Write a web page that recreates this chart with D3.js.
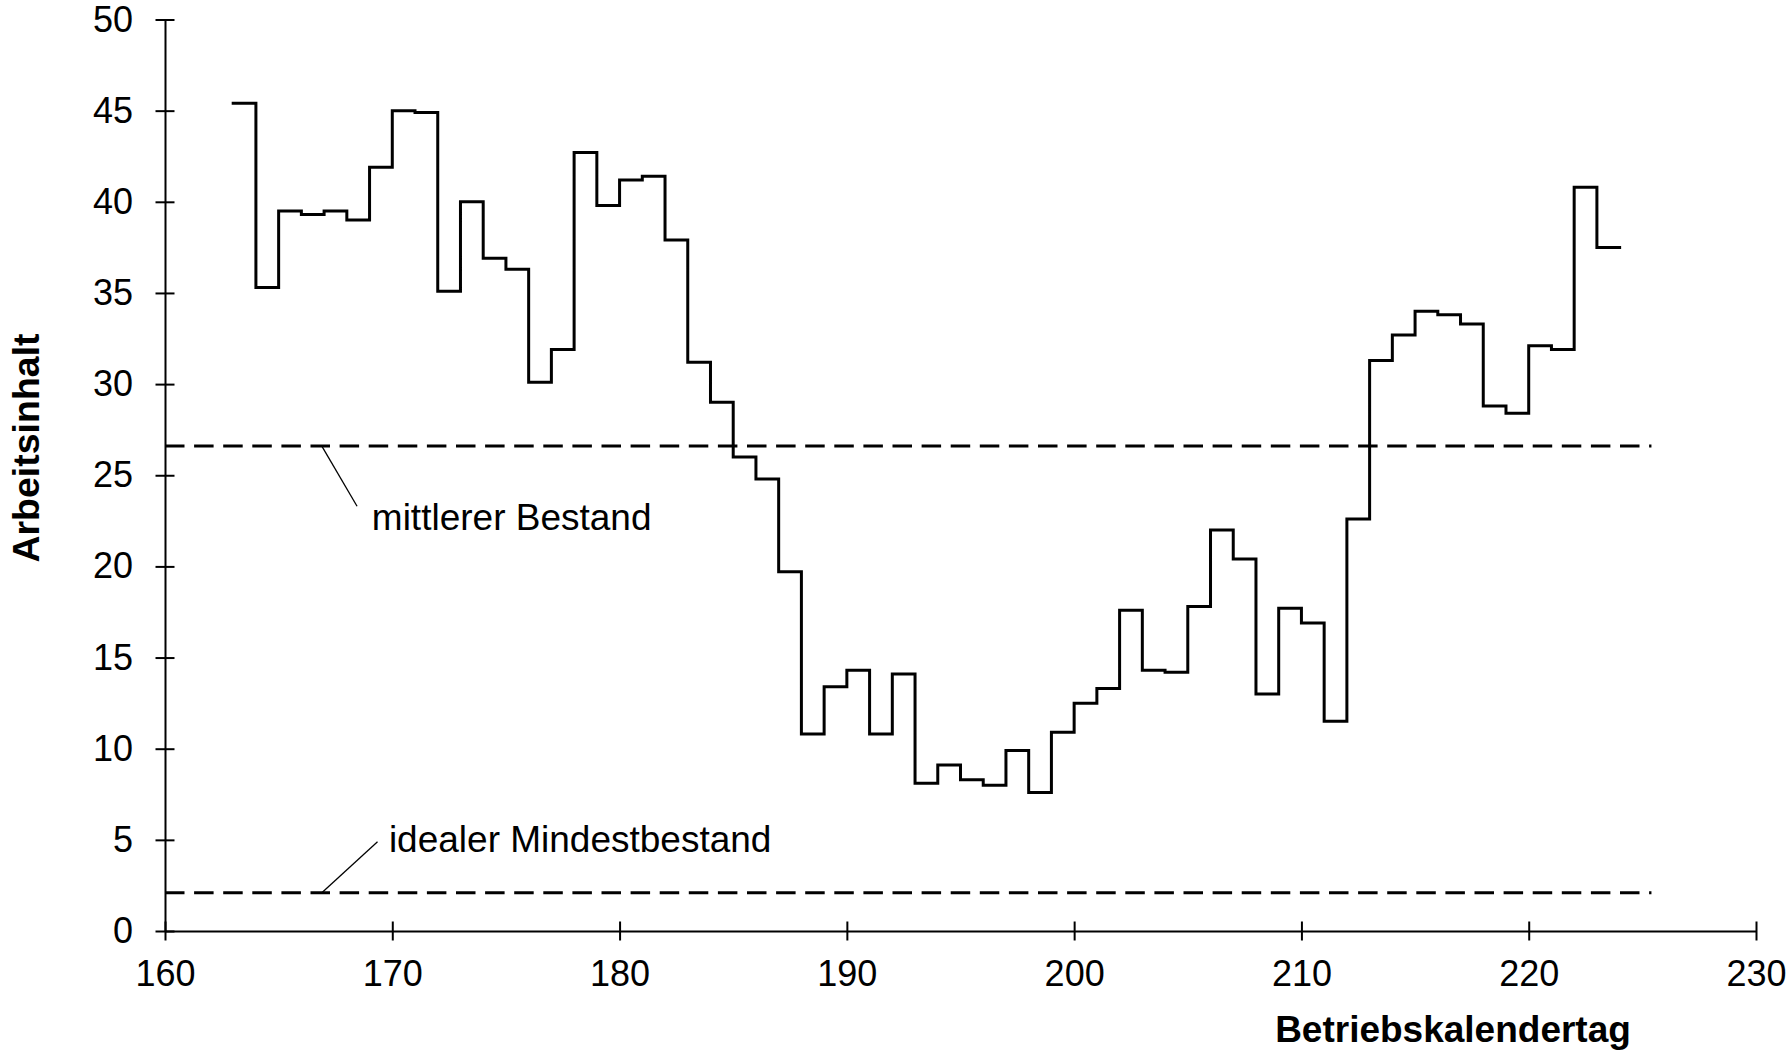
<!DOCTYPE html>
<html>
<head>
<meta charset="utf-8">
<script src="https://cdn.jsdelivr.net/npm/d3@7"></script>
<style>
  body { margin: 0; background: #fff; }
  svg { display: block; }
  text { font-family: Arial, "Liberation Sans", sans-serif; fill: #000; }
  .axis path, .axis line { stroke: #000; stroke-width: 2; }
  .axis text { font-size: 36px; }
</style>
</head>
<body>
<div id="chart"></div>
<script>
// days (Betriebskalendertag) where each step starts
const days = [163, 164, 165, 166, 167, 168, 169, 170, 171, 172, 173, 174, 175, 176, 177,
  178, 179, 180, 181, 182, 183, 184, 185, 186, 187, 188, 189, 190, 191, 192, 193, 194, 195,
  196, 197, 198, 199, 200, 201, 202, 203, 204, 205, 206, 207, 208, 209, 210, 211, 212, 213,
  214, 215, 216, 217, 218, 219, 220, 221, 222, 223];
const lastDay = 224;
// Arbeitsinhalt per day
const stock = [45.4, 35.3, 39.5, 39.3, 39.5, 39.0, 41.9, 45.0, 44.9, 35.1, 40.0, 36.9, 36.3,
  30.1, 31.9, 42.7, 39.8, 41.2, 41.4, 37.9, 31.2, 29.0, 26.0, 24.8, 19.7, 10.8, 13.4, 14.3,
  10.8, 14.1, 8.1, 9.1, 8.3, 8.0, 9.9, 7.6, 10.9, 12.5, 13.3, 17.6, 14.3, 14.2, 17.8, 22.0,
  20.4, 13.0, 17.7, 16.9, 11.5, 22.6, 31.3, 32.7, 34.0, 33.8, 33.3, 28.8, 28.4, 32.1, 31.9,
  40.8, 37.5];

// reference levels
const levelNames = ["mittlerer Bestand", "idealer Mindestbestand"];
const levelValues = [26.6, 2.1];
const levelEndDay = 225.4;

const xTicks = [160, 170, 180, 190, 200, 210, 220, 230];
const yTicks = [0, 5, 10, 15, 20, 25, 30, 35, 40, 45, 50];

const width = 1791, height = 1057;

const svg = d3.select("#chart").append("svg")
  .attr("width", width)
  .attr("height", height);

const x = d3.scaleLinear().domain([160, 230]).range([165, 1756]);
const y = d3.scaleLinear().domain([0, 50]).range([931, 19.5]);

// x axis, ticks cross the line
const xAxis = svg.append("g")
  .attr("class", "axis")
  .attr("transform", `translate(0,${y(0)})`)
  .call(d3.axisBottom(x).tickValues(xTicks).tickSizeInner(9.5).tickSizeOuter(0).tickPadding(19.5));
xAxis.selectAll(".tick line").attr("y1", -9.5).attr("y2", 9.5);

// y axis
const yAxis = svg.append("g")
  .attr("class", "axis")
  .attr("transform", `translate(${x(160)},0)`)
  .call(d3.axisLeft(y).tickValues(yTicks).tickSizeInner(9.5).tickSizeOuter(0).tickPadding(22.5));
yAxis.selectAll(".tick line").attr("x1", -9.5).attr("x2", 9.5);

// dashed reference lines
svg.selectAll(".level")
  .data(levelValues)
  .enter().append("line")
  .attr("class", "level")
  .attr("x1", x(160))
  .attr("x2", x(levelEndDay))
  .attr("y1", d => y(d))
  .attr("y2", d => y(d))
  .attr("stroke", "#000")
  .attr("stroke-width", 3)
  .attr("stroke-dasharray", "19.5,9.6");

// step line
const points = days.map((d, i) => [d, stock[i]]);
points.push([lastDay, stock[stock.length - 1]]);

const line = d3.line()
  .x(d => x(d[0]))
  .y(d => y(d[1]))
  .curve(d3.curveStepAfter);

svg.append("path")
  .datum(points)
  .attr("d", line)
  .attr("fill", "none")
  .attr("stroke", "#000")
  .attr("stroke-width", 3)
  .attr("stroke-linejoin", "miter")
  .attr("stroke-linecap", "square");

// annotation leaders + labels (in data units)
const notes = [
  { from: [166.9, levelValues[0]], to: [168.45, 23.3], at: [169.1, 22.0] },
  { from: [166.9, levelValues[1]], to: [169.35, 4.9], at: [169.85, 4.35] }
];
notes.forEach((n, i) => {
  svg.append("line")
    .attr("x1", x(n.from[0])).attr("y1", y(n.from[1]))
    .attr("x2", x(n.to[0])).attr("y2", y(n.to[1]))
    .attr("stroke", "#000")
    .attr("stroke-width", 1.3);
  svg.append("text")
    .attr("x", x(n.at[0]))
    .attr("y", y(n.at[1]))
    .style("font-size", "37px")
    .text(levelNames[i]);
});

// axis titles
svg.append("text")
  .attr("transform", "translate(39,448) rotate(-90)")
  .attr("text-anchor", "middle")
  .style("font-size", "37.5px")
  .style("font-weight", "bold")
  .text("Arbeitsinhalt");

svg.append("text")
  .attr("x", 1453)
  .attr("y", 1042)
  .attr("text-anchor", "middle")
  .style("font-size", "37px")
  .style("font-weight", "bold")
  .text("Betriebskalendertag");
</script>
</body>
</html>
